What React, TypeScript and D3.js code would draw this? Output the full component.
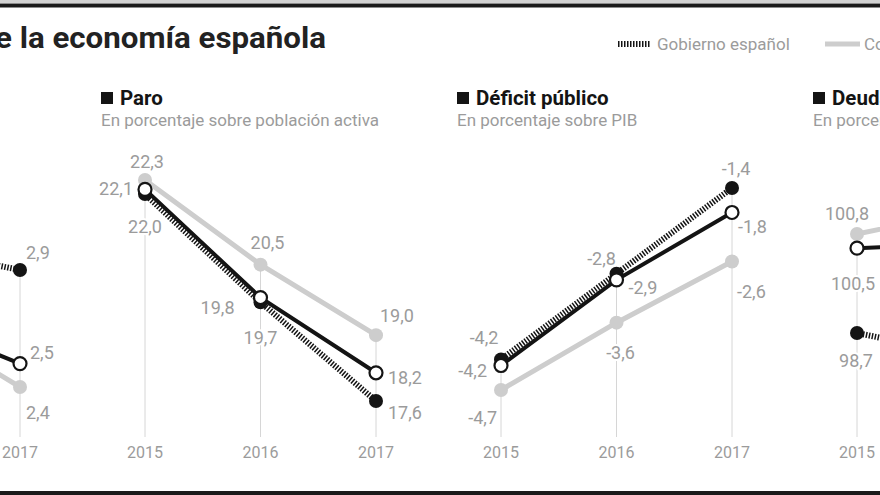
import React from "react";
import * as d3 from "d3";

// ---- data ----
const years = ["2015", "2016", "2017"];
const panelTitles = ["Crecimiento del PIB", "Paro", "Déficit público", "Deuda pública"];
const panelSubtitles = [
  "Variación anual en porcentaje",
  "En porcentaje sobre población activa",
  "En porcentaje sobre PIB",
  "En porcentaje sobre PIB",
];
// Gobierno español (hatched line, black dots)
const gobierno = [
  [3.3, 3.0, 2.9],
  [22.0, 19.7, 17.6],
  [-4.2, -2.8, -1.4],
  [98.7, 98.2, 96.5],
];
// Comisión Europea (grey line)
const comision = [
  [3.1, 2.7, 2.4],
  [22.3, 20.5, 19.0],
  [-4.7, -3.6, -2.6],
  [100.8, 101.3, 100.3],
];
// Third forecaster (black line, open circles)
const otros = [
  [3.1, 2.7, 2.5],
  [22.1, 19.8, 18.2],
  [-4.3, -2.9, -1.8],
  [100.5, 100.6, 100.0],
];
const gobiernoLabels = [
  ["3,3", "3,0", "2,9"],
  ["22,0", "19,7", "17,6"],
  ["-4,2", "-2,8", "-1,4"],
  ["98,7", "98,2", "96,5"],
];
const comisionLabels = [
  ["3,1", "2,7", "2,4"],
  ["22,3", "20,5", "19,0"],
  ["-4,7", "-3,6", "-2,6"],
  ["100,8", "101,3", "100,3"],
];
const otrosLabels = [
  ["3,1", "2,7", "2,5"],
  ["22,1", "19,8", "18,2"],
  ["-4,2", "-2,9", "-1,8"],
  ["100,5", "100,6", "100,0"],
];
const legendItems = ["Gobierno español", "Comisión Europea"];

// ---- layout ----
const W = 880;
const H = 495;
const panelStep = 356;
const firstX = -211;
const yearStep = 115.5;
const gridBottom = 437;
// per-panel y mapping: [valueLow, valueHigh] -> [pixelLow, pixelHigh]
const yDomains = [
  [2.4, 2.9],
  [17.6, 22.3],
  [-4.7, -1.4],
  [98.7, 100.8],
];
const yRanges = [
  [387, 270],
  [401, 180],
  [390, 188],
  [333, 234],
];
// label placements: key `${panel}-${series}-${year}` -> [dx, dy, anchor]
const labelPos: Record<string, [number, number, string]> = {
  "0-g-2": [6, -18, "start"],
  "0-o-2": [10, -11, "start"],
  "0-c-2": [6, 25, "start"],
  "1-c-0": [2, -19, "middle"],
  "1-o-0": [-12, -1, "end"],
  "1-g-0": [0, 32, "middle"],
  "1-c-1": [7, -22, "middle"],
  "1-o-1": [-26, 10, "end"],
  "1-g-1": [0, 35, "middle"],
  "1-c-2": [4, -20, "start"],
  "1-o-2": [12, 5, "start"],
  "1-g-2": [12, 11, "start"],
  "2-g-0": [-17, -22, "middle"],
  "2-o-0": [-14, 5, "end"],
  "2-c-0": [-4, 27, "end"],
  "2-g-1": [-15, -15, "middle"],
  "2-o-1": [12, 8, "start"],
  "2-c-1": [4, 30, "middle"],
  "2-g-2": [4, -20, "middle"],
  "2-o-2": [6, 14, "start"],
  "2-c-2": [5, 30, "start"],
  "3-c-0": [-10, -21, "middle"],
  "3-o-0": [-4, 35, "middle"],
  "3-g-0": [-1, 27, "middle"],
};

const GREY = "#cdcdcd";
const TEXTGREY = "#9b9b9b";
const DARK = "#141414";
const FONT = "Roboto, 'Open Sans', sans-serif";

export default function App() {
  const x = (p: number, i: number) => firstX + p * panelStep + i * yearStep;

  const panels = panelTitles.map((title, p) => {
    const y = d3.scaleLinear().domain(yDomains[p]).range(yRanges[p]);
    const line = d3
      .line<number>()
      .x((_, i) => x(p, i))
      .y((v) => y(v));
    const x0 = x(p, 0);
    const allSeries = [
      { key: "c", vals: comision[p], labels: comisionLabels[p] },
      { key: "g", vals: gobierno[p], labels: gobiernoLabels[p] },
      { key: "o", vals: otros[p], labels: otrosLabels[p] },
    ];
    return (
      <g key={p}>
        {/* title */}
        <rect x={x0 - 44} y={92} width={12} height={12} fill={DARK} />
        <text x={x0 - 25} y={105} fontSize={20.5} fontWeight={700} fill={DARK} fontFamily={FONT}>
          {title}
        </text>
        <text x={x0 - 44} y={126} fontSize={17} fill={TEXTGREY} fontFamily={FONT}>
          {panelSubtitles[p]}
        </text>
        {/* grid lines and years */}
        {years.map((yr, i) => {
          const top = Math.min(y(gobierno[p][i]), y(comision[p][i]), y(otros[p][i]));
          return (
            <g key={yr}>
              <line x1={x(p, i)} x2={x(p, i)} y1={top} y2={gridBottom} stroke="#d6d6d6" strokeWidth={1} />
              <text
                x={x(p, i)}
                y={452}
                textAnchor="middle"
                dominantBaseline="central"
                fontSize={16}
                fill={TEXTGREY}
                fontFamily={FONT}
              >
                {yr}
              </text>
            </g>
          );
        })}
        {/* value labels (halo cuts grid lines) */}
        {allSeries.map((s) =>
          s.vals.map((v, i) => {
            const lp = labelPos[`${p}-${s.key}-${i}`] ||
              (s.key === "c" ? [0, -20, "middle"] : s.key === "g" ? [0, 28, "middle"] : [12, 5, "start"]);
            return (
              <text
                key={s.key + i}
                x={x(p, i) + lp[0]}
                y={y(v) + lp[1]}
                textAnchor={lp[2] as any}
                dominantBaseline="central"
                fontSize={18}
                fill={TEXTGREY}
                stroke="#fff"
                strokeWidth={4}
                paintOrder="stroke"
                fontFamily={FONT}
              >
                {s.labels[i]}
              </text>
            );
          })
        )}
        {/* lines */}
        <path d={line(comision[p]) || ""} fill="none" stroke={GREY} strokeWidth={5} />
        <path d={line(gobierno[p]) || ""} fill="none" stroke={DARK} strokeWidth={6} strokeDasharray="1.5 1.5" />
        <path d={line(otros[p]) || ""} fill="none" stroke={DARK} strokeWidth={4} />
        {/* markers */}
        {comision[p].map((v, i) => (
          <circle key={"c" + i} cx={x(p, i)} cy={y(v)} r={7} fill={GREY} />
        ))}
        {gobierno[p].map((v, i) => (
          <circle key={"g" + i} cx={x(p, i)} cy={y(v)} r={7} fill={DARK} />
        ))}
        {otros[p].map((v, i) => (
          <circle key={"o" + i} cx={x(p, i)} cy={y(v)} r={6.5} fill="#fff" stroke={DARK} strokeWidth={2.2} />
        ))}
      </g>
    );
  });

  return (
    <svg
      width={W}
      height={H}
      style={{ position: "absolute", left: 0, top: 0, background: "#fff" }}
      viewBox={`0 0 ${W} ${H}`}
    >
      <rect x={0} y={0} width={W} height={H} fill="#fff" />
      {/* rules */}
      <rect x={0} y={0} width={W} height={3} fill="#d2d2d2" />
      <rect x={0} y={3.5} width={W} height={4} fill="#1a1a1a" />
      <rect x={0} y={491} width={W} height={4} fill="#1a1a1a" />
      {/* title */}
      <text
        x={-5}
        y={48}
        fontSize={30}
        fontWeight={700}
        fill="#222"
        fontFamily={FONT}
        textLength={331}
        lengthAdjust="spacingAndGlyphs"
      >
        e la economía española
      </text>
      {/* legend */}
      <line x1={618} x2={650} y1={44} y2={44} stroke={DARK} strokeWidth={6} strokeDasharray="1.5 1.5" />
      <text x={657} y={44} dominantBaseline="central" fontSize={17} fill={TEXTGREY} fontFamily={FONT}>
        {legendItems[0]}
      </text>
      <line x1={825} x2={860} y1={44} y2={44} stroke={GREY} strokeWidth={5} />
      <text x={864} y={44} dominantBaseline="central" fontSize={17} fill={TEXTGREY} fontFamily={FONT}>
        {legendItems[1]}
      </text>
      {panels}
    </svg>
  );
}
